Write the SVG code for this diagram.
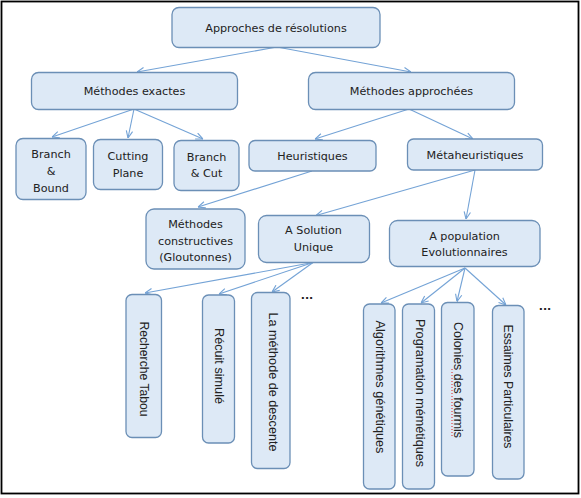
<svg xmlns="http://www.w3.org/2000/svg" width="581" height="498" viewBox="0 0 581 498">
<style>
.box{fill:#dde9f6;stroke:#6b8fb6;stroke-width:1.3}
.t{font-family:"DejaVu Sans",sans-serif;font-size:11.2px;fill:#222;text-anchor:middle;dominant-baseline:central}
.v{font-family:"Liberation Sans",Arial,sans-serif;font-size:12px;fill:#222;text-anchor:middle;dominant-baseline:central}
.c{fill:none;stroke:#74a3d6;stroke-width:1.1}
.dots{font-family:"DejaVu Sans",sans-serif;font-size:11px;font-weight:bold;fill:#222;text-anchor:middle}
</style>
<defs>
<marker id="a" viewBox="0 0 10 10" refX="10" refY="5" markerWidth="8" markerHeight="8" markerUnits="userSpaceOnUse" orient="auto">
<path d="M1,1 L10,5 L1,9" fill="none" stroke="#74a3d6" stroke-width="1.4"/>
</marker>
</defs>
<rect x="1.5" y="1.5" width="577" height="492" fill="#fff" stroke="#000" stroke-width="1.8"/>
<g id="connectors">
<line class="c" x1="277" y1="47" x2="137" y2="72" marker-end="url(#a)"/>
<line class="c" x1="277" y1="47" x2="411" y2="72" marker-end="url(#a)"/>
<line class="c" x1="134" y1="109" x2="52" y2="137" marker-end="url(#a)"/>
<line class="c" x1="134" y1="109" x2="128" y2="138" marker-end="url(#a)"/>
<line class="c" x1="134" y1="109" x2="203" y2="139" marker-end="url(#a)"/>
<line class="c" x1="409" y1="109" x2="315" y2="139" marker-end="url(#a)"/>
<line class="c" x1="409" y1="109" x2="473" y2="139" marker-end="url(#a)"/>
<line class="c" x1="312" y1="171" x2="198" y2="207" marker-end="url(#a)"/>
<line class="c" x1="475" y1="170" x2="316" y2="215.5" marker-end="url(#a)"/>
<line class="c" x1="475" y1="170" x2="466" y2="219" marker-end="url(#a)"/>
<line class="c" x1="313" y1="262.5" x2="145" y2="293" marker-end="url(#a)"/>
<line class="c" x1="313" y1="262.5" x2="219" y2="294" marker-end="url(#a)"/>
<line class="c" x1="313" y1="262.5" x2="272" y2="292" marker-end="url(#a)"/>
<line class="c" x1="465" y1="268" x2="381" y2="303" marker-end="url(#a)"/>
<line class="c" x1="465" y1="268" x2="421" y2="303" marker-end="url(#a)"/>
<line class="c" x1="465" y1="268" x2="457" y2="301.5" marker-end="url(#a)"/>
<line class="c" x1="465" y1="268" x2="506" y2="305" marker-end="url(#a)"/>
</g>
<g id="approches">
<rect class="box" x="172" y="7.5" width="208" height="40" rx="7"/>
<text class="t" x="276" y="28">Approches de résolutions</text>
</g>
<g id="exactes">
<rect class="box" x="31.5" y="72.5" width="206" height="37" rx="7"/>
<text class="t" x="134.5" y="91">Méthodes exactes</text>
</g>
<g id="approchees">
<rect class="box" x="308.5" y="72.5" width="206" height="37" rx="7"/>
<text class="t" x="411.5" y="91">Méthodes approchées</text>
</g>
<g id="branchbound">
<rect class="box" x="16" y="138.5" width="70" height="61" rx="7"/>
<text class="t" x="51" y="154">Branch</text>
<text class="t" x="51" y="171">&amp;</text>
<text class="t" x="51" y="188">Bound</text>
</g>
<g id="cutting">
<rect class="box" x="93.5" y="139.5" width="69" height="50" rx="7"/>
<text class="t" x="128" y="156">Cutting</text>
<text class="t" x="128" y="173">Plane</text>
</g>
<g id="branchcut">
<rect class="box" x="174" y="140.5" width="65" height="50" rx="7"/>
<text class="t" x="206.5" y="157">Branch</text>
<text class="t" x="206.5" y="173.5">&amp; Cut</text>
</g>
<g id="heuristiques">
<rect class="box" x="249" y="140.5" width="127" height="30.5" rx="6"/>
<text class="t" x="312.5" y="156">Heuristiques</text>
</g>
<g id="metaheuristiques">
<rect class="box" x="407.5" y="139" width="135" height="31" rx="6"/>
<text class="t" x="475" y="155">Métaheuristiques</text>
</g>
<g id="constructives">
<rect class="box" x="146" y="209" width="99" height="60" rx="8"/>
<text class="t" x="195.5" y="224.5">Méthodes</text>
<text class="t" x="195.5" y="241">constructives</text>
<text class="t" x="195.5" y="257.5">(Gloutonnes)</text>
</g>
<g id="solution-unique">
<rect class="box" x="258.5" y="215.5" width="111" height="47" rx="8"/>
<text class="t" x="313.5" y="230">A Solution</text>
<text class="t" x="313.5" y="247.5">Unique</text>
</g>
<g id="population">
<rect class="box" x="389.5" y="220.5" width="150.5" height="46" rx="8"/>
<text class="t" x="464.5" y="236">A population</text>
<text class="t" x="464.5" y="252.5">Evolutionnaires</text>
</g>
<g id="tabou">
<rect class="box" x="126" y="294.5" width="35.5" height="143" rx="6"/>
<text class="v" transform="translate(143.5,369) rotate(90)" textLength="95" lengthAdjust="spacingAndGlyphs">Recherche Tabou</text>
</g>
<g id="recuit">
<rect class="box" x="202.5" y="295" width="32" height="148" rx="6"/>
<text class="v" transform="translate(218.5,366) rotate(90)" textLength="76" lengthAdjust="spacingAndGlyphs">Récuit simulé</text>
</g>
<g id="descente">
<rect class="box" x="251.5" y="292.5" width="38.5" height="176" rx="6"/>
<text class="v" transform="translate(273,382) rotate(90)" textLength="139" lengthAdjust="spacingAndGlyphs">La méthode de descente</text>
</g>
<text class="dots" x="307" y="299">...</text>
<g id="genetiques">
<rect class="box" x="363.5" y="304" width="31.5" height="185" rx="6"/>
<text class="v" transform="translate(380,387) rotate(90)" textLength="133" lengthAdjust="spacingAndGlyphs">Algorithmes génétiques</text>
</g>
<g id="memetiques">
<rect class="box" x="402.5" y="304" width="32" height="185" rx="6"/>
<text class="v" transform="translate(420,393) rotate(90)" textLength="148" lengthAdjust="spacingAndGlyphs">Programation mémétiques</text>
</g>
<g id="fourmis">
<rect class="box" x="441.5" y="302.5" width="32.5" height="173.5" rx="6"/>
<text class="v" transform="translate(457.5,380) rotate(90)" textLength="116" lengthAdjust="spacingAndGlyphs">Colonies des fourmis</text>
<line x1="452" y1="369" x2="452" y2="438" stroke="#e02020" stroke-width="1" stroke-dasharray="1,2"/>
</g>
<g id="essaimes">
<rect class="box" x="492.5" y="305.5" width="31.5" height="173.5" rx="6"/>
<text class="v" transform="translate(507.5,386.5) rotate(90)" textLength="124" lengthAdjust="spacingAndGlyphs">Essaimes Particulaires</text>
</g>
<text class="dots" x="545" y="310">...</text>
</svg>
